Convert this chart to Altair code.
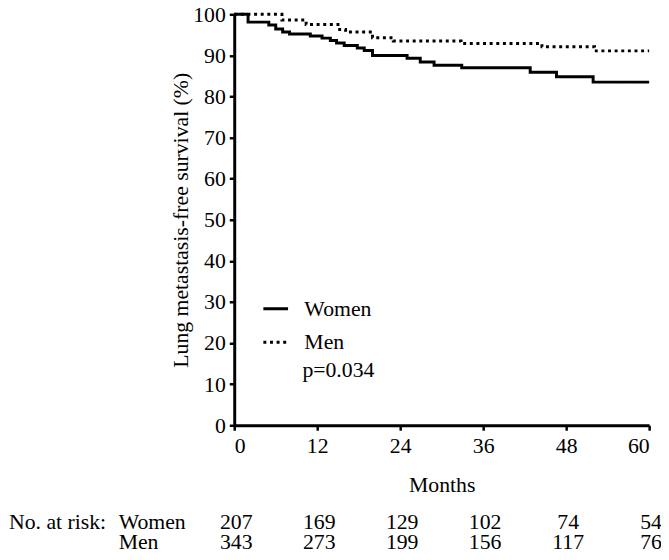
import altair as alt
import pandas as pd

# Kaplan-Meier step points (month, survival %)
women_t = [0, 2, 5, 6, 7, 8, 11, 12.7, 13.9, 14.8, 15.9, 17.8, 18.8, 20, 25, 26.9, 28.9, 32.9, 42.8, 46.6, 51.9, 60]
women_s = [100, 98.1, 97.4, 96.4, 95.7, 95.2, 94.7, 94.2, 93.6, 93.0, 92.4, 91.8, 91.2, 90.0, 89.3, 88.4, 87.6, 87.0, 85.9, 84.8, 83.5, 83.5]
men_t = [0, 6.9, 10.4, 15, 16.1, 20, 23, 32.8, 44.5, 52.1, 60]
men_s = [100, 98.6, 97.5, 96.3, 95.7, 94.3, 93.5, 92.9, 92.1, 91.1, 91.1]

risk_months = [0, 12, 24, 36, 48, 60]
risk_women = [207, 169, 129, 102, 74, 54]
risk_men = [343, 273, 199, 156, 117, 76]

FONT = "Liberation Serif"
FS = 22
TFS = 22

curves = pd.DataFrame(
    [{"t": t, "s": s, "g": "Women"} for t, s in zip(women_t, women_s)]
    + [{"t": t, "s": s, "g": "Men"} for t, s in zip(men_t, men_s)]
)
risk = pd.DataFrame(
    [{"t": t, "n": str(n), "row": "Women"} for t, n in zip(risk_months, risk_women)]
    + [{"t": t, "n": str(n), "row": "Men"} for t, n in zip(risk_months, risk_men)]
)

xs = alt.Scale(domain=[0, 60], nice=False)
ys = alt.Scale(domain=[0, 100], nice=False)

lines = alt.Chart(curves).mark_line(interpolate="step-after", color="black", strokeWidth=3).encode(
    x=alt.X("t:Q", scale=xs, axis=alt.Axis(values=risk_months, title="Months", titlePadding=18)),
    y=alt.Y("s:Q", scale=ys, axis=alt.Axis(values=list(range(0, 101, 10)),
                                          title="Lung metastasis-free survival (%)", titlePadding=0)),
    strokeDash=alt.StrokeDash("g:N", scale=alt.Scale(domain=["Women", "Men"], range=[[1, 0], [3, 3.7]]),
                              legend=alt.Legend(title=None, orient="none", legendX=28, legendY=284,
                                                symbolType="stroke", symbolSize=625, symbolStrokeWidth=3,
                                                symbolStrokeColor="black", labelFont=FONT, labelFontSize=FS,
                                                labelColor="black", labelOffset=15, rowPadding=9,
                                                symbolOffset=0)),
    detail="g:N",
)

pval = alt.Chart(pd.DataFrame({"txt": ["p=0.034"]})).mark_text(
    font=FONT, fontSize=FS, align="left", baseline="alphabetic", color="black"
).encode(x=alt.value(69), y=alt.value(367), text="txt:N")

risk_nums_w = alt.Chart(risk[risk.row == "Women"]).mark_text(
    font=FONT, fontSize=TFS, align="center", baseline="alphabetic", color="black", dx=2
).encode(x=alt.X("t:Q", scale=xs), y=alt.value(521), text="n:N")
risk_nums_m = alt.Chart(risk[risk.row == "Men"]).mark_text(
    font=FONT, fontSize=TFS, align="center", baseline="alphabetic", color="black", dx=2
).encode(x=alt.X("t:Q", scale=xs), y=alt.value(541), text="n:N")

row_labels = alt.Chart(pd.DataFrame({"txt": ["Women", "Men"], "yy": [521, 541]})).mark_text(
    font=FONT, fontSize=TFS, align="left", baseline="alphabetic", color="black"
).encode(x=alt.value(-117), y=alt.Y("yy:Q", scale=None), text="txt:N")

no_at_risk = alt.Chart(pd.DataFrame({"txt": ["No. at risk:"]})).mark_text(
    font=FONT, fontSize=TFS, align="left", baseline="alphabetic", color="black"
).encode(x=alt.value(-228), y=alt.value(521), text="txt:N")

chart = alt.layer(lines, pval, risk_nums_w, risk_nums_m, row_labels, no_at_risk).properties(
    width=420, height=416,
    padding={"left": 229, "top": 3, "right": 12, "bottom": 133},
    autosize=alt.AutoSizeParams(type="none"),
).configure_view(stroke=None).configure_axis(
    grid=False, domainColor="black", domainWidth=3, tickColor="black", tickWidth=2.5, tickSize=5,
    labelFont=FONT, labelFontSize=FS, labelColor="black", labelPadding=4,
    titleFont=FONT, titleFontSize=FS, titleColor="black", titleFontWeight="normal",
).configure_axisX(labelPadding=6)

chart.save("out.html", embed_options={"renderer": "svg", "actions": False})
